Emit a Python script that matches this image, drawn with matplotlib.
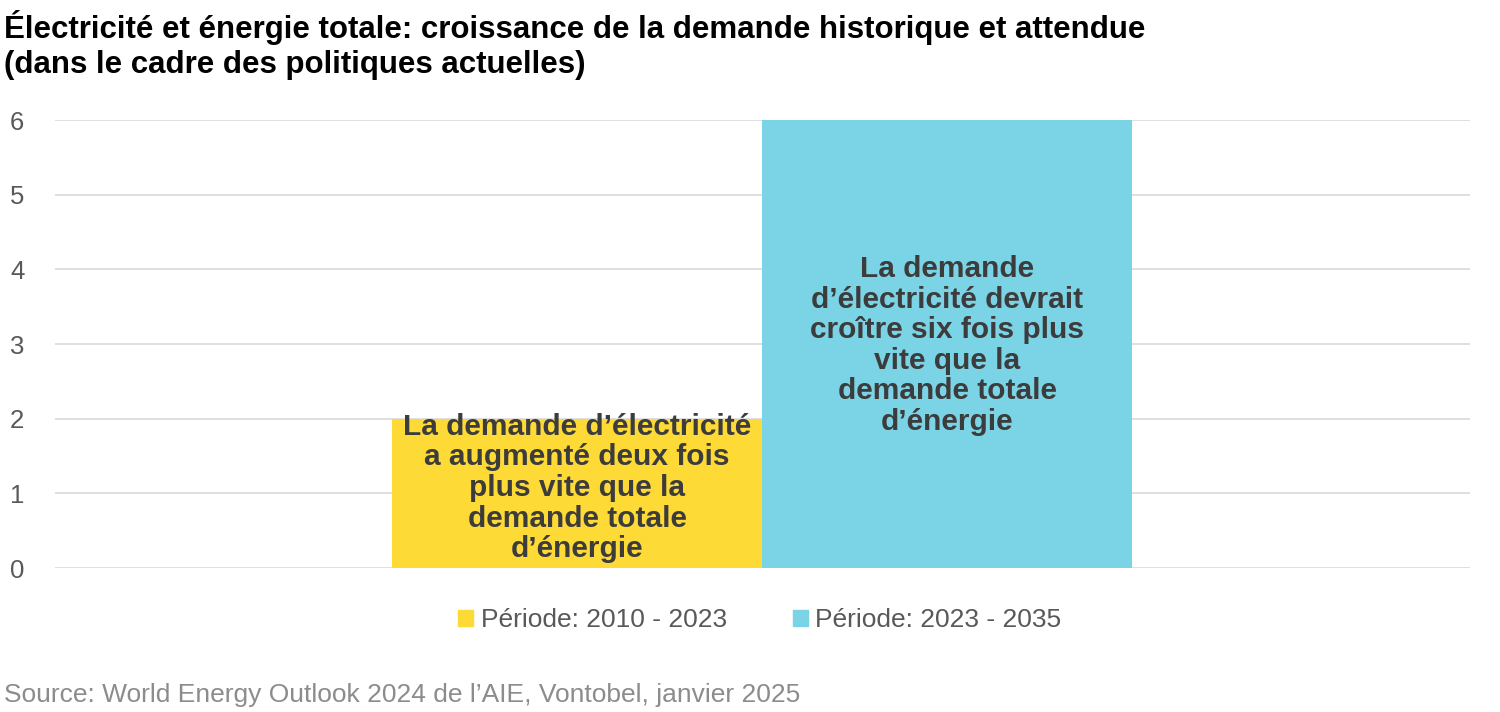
import matplotlib.pyplot as plt
from matplotlib.patches import Patch

plt.rcParams['font.family'] = ['Liberation Sans', 'DejaVu Sans']

# données
periodes = ['Période: 2010 - 2023', 'Période: 2023 - 2035']
valeurs = [2, 6]
couleurs = ['#FDDA36', '#7BD3E6']
textes = ["La demande d\u2019électricité\na augmenté deux fois\nplus vite que la\ndemande totale\nd\u2019énergie",
          "La demande\nd\u2019électricité devrait\ncroître six fois plus\nvite que la\ndemande totale\nd\u2019énergie"]
texte_y = [1.07, 2.98]

fig = plt.figure(figsize=(15, 7.12), dpi=100)
ax = fig.add_axes([55/1500, 1 - 568/712, 1415/1500, 448/712])

pos = [-0.5, 0.5]
ax.bar(pos, valeurs, width=1.0, color=couleurs, zorder=2)
for x, t, y in zip(pos, textes, texte_y):
    ax.text(x, y, t, ha='center', va='center', fontsize=21.5, fontweight='bold',
            color='#3C3C3C', linespacing=1.12, zorder=3)

ax.set_xlim((55 - 762) / 370, (1470 - 762) / 370)
ax.set_ylim(0, 6)
ax.set_yticks(range(7))
ax.yaxis.grid(True, color='#D9D9D9', linewidth=1.2, zorder=0)
ax.set_xticks([])
for s in ax.spines.values():
    s.set_visible(False)
ax.tick_params(axis='y', length=0, labelsize=18.5, labelcolor='#595959', pad=22)

fig.text(0.003, 1 - 10/712, "Électricité et énergie totale: croissance de la demande historique et attendue\n(dans le cadre des politiques actuelles)",
         fontsize=22.5, fontweight='bold', color='black', va='top', linespacing=1.2)

handles = [Patch(color=c) for c in couleurs]
fig.legend(handles, periodes, loc='center', bbox_to_anchor=(760/1500, 1 - 620/712), ncol=2,
           frameon=False, fontsize=19, labelcolor='#595959', handlelength=0.55, handleheight=0.55,
           handletextpad=0.3, columnspacing=2.5)

fig.text(0.003, 1 - 695/712, "Source: World Energy Outlook 2024 de l\u2019AIE, Vontobel, janvier 2025",
         fontsize=19, color='#8C8C8C', va='center')

fig.savefig('out.png')
